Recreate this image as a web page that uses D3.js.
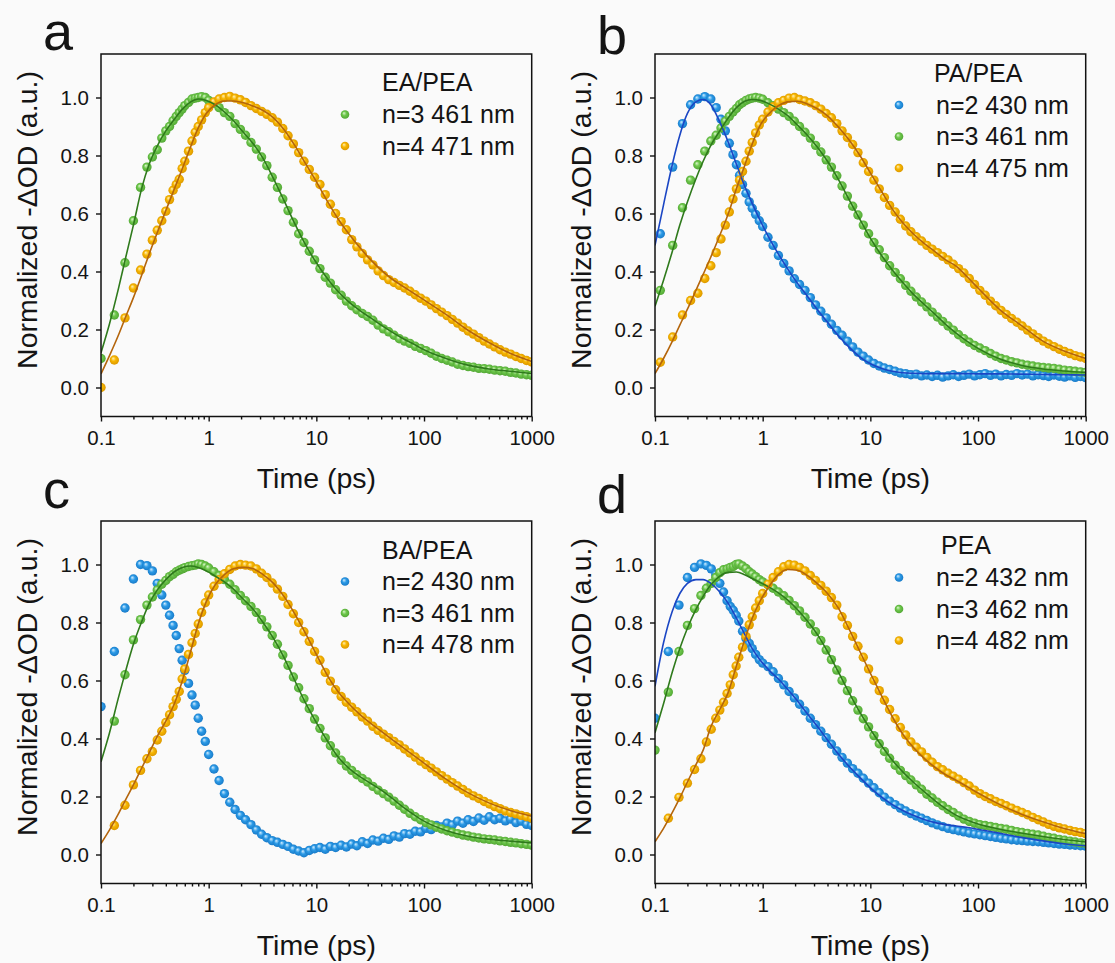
<!DOCTYPE html>
<meta charset="utf-8">
<style>
  body { margin: 0; background: #fafafa; }
  text { font-family: "Liberation Sans", Arial, sans-serif; fill: #141414; }
  .axis path { display: none; }
  .axis line { stroke: #111; stroke-width: 1.4px; }
  .axis text { font-size: 20.5px; }
</style>
<body>
<script src="https://d3js.org/d3.v7.min.js"></script>
<script>
// sampling times (ps)
var timesEarly  = [0.1, 0.133, 0.167, 0.2, 0.233, 0.267, 0.3, 0.333, 0.367, 0.4,
                   0.433, 0.467, 0.5, 0.533, 0.567, 0.6, 0.65, 0.7, 0.75, 0.8,
                   0.86, 0.93, 1.0];
var timesEarlyB = [0.112, 0.146, 0.18, 0.214, 0.25, 0.29, 0.33, 0.37, 0.41, 0.45,
                   0.49, 0.53, 0.57, 0.61, 0.65, 0.7, 0.75, 0.8, 0.86, 0.93,
                   1.0];
var timesLate = [1.12, 1.25, 1.4, 1.57, 1.76, 1.97, 2.2, 2.47, 2.77, 3.1,
                 3.47, 3.89, 4.35, 4.88, 5.46, 6.12, 6.85, 7.67, 8.6, 9.63,
                 10.8, 12.1, 13.5, 15.1, 17, 19, 21.3, 23.8, 26.7, 29.9,
                 33.5, 37.5, 42, 47, 52.7, 59, 66, 74, 82.9, 92.9,
                 104, 116.5, 130.5, 146, 163.6, 183, 205, 230, 257, 288,
                 323, 362, 405, 453, 508, 569, 637, 714, 799, 895,
                 1000];
var fitTimes = [0.1, 0.12, 0.145, 0.17, 0.2, 0.24, 0.28, 0.33, 0.4, 0.48,
                0.57, 0.68, 0.8, 0.95, 1.15, 1.4, 1.7, 2.1, 2.6, 3.2,
                4, 5, 6.3, 8, 10, 13, 16, 20, 25, 32,
                40, 50, 63, 80, 100, 160, 250, 400, 630, 1000];

var xTicks = [0.1, 1, 10, 100, 1000];
var yTicks = [0, 0.2, 0.4, 0.6, 0.8, 1.0];

// ---- panel a : EA/PEA ----
var aGreen = [0.10, 0.25, 0.43, 0.575, 0.69, 0.76, 0.795, 0.82, 0.86, 0.885,
  0.9, 0.92, 0.935, 0.948, 0.96, 0.972, 0.983, 0.995, 0.998, 1.0,
  1.003, 1.0, 0.99,
  0.98, 0.965, 0.948, 0.935, 0.91, 0.89, 0.87, 0.845, 0.822, 0.795,
  0.765, 0.725, 0.69, 0.65, 0.61, 0.57, 0.53, 0.5, 0.47, 0.44,
  0.41, 0.38, 0.36, 0.337, 0.318, 0.298, 0.282, 0.268, 0.255, 0.245,
  0.232, 0.215, 0.202, 0.192, 0.18, 0.168, 0.16, 0.152, 0.142, 0.135,
  0.127, 0.118, 0.108, 0.1, 0.094, 0.088, 0.08, 0.076, 0.072, 0.07,
  0.066, 0.065, 0.063, 0.06, 0.058, 0.056, 0.052, 0.05, 0.046, 0.044,
  0.042];
var aYellow = [0.0, 0.095, 0.24, 0.343, 0.405, 0.46, 0.508, 0.542, 0.575, 0.608,
  0.648, 0.68, 0.7, 0.718, 0.755, 0.78, 0.815, 0.85, 0.88, 0.9,
  0.923, 0.948, 0.965,
  0.985, 0.995, 1.0, 1.004, 0.998, 0.992, 0.983, 0.972, 0.962, 0.952,
  0.942, 0.93, 0.915, 0.893, 0.868, 0.84, 0.81, 0.78, 0.752, 0.725,
  0.7, 0.665, 0.632, 0.6, 0.572, 0.544, 0.51, 0.485, 0.462, 0.44,
  0.423, 0.402, 0.386, 0.372, 0.362, 0.352, 0.343, 0.332, 0.32, 0.308,
  0.298, 0.285, 0.272, 0.26, 0.248, 0.235, 0.222, 0.208, 0.195, 0.184,
  0.172, 0.16, 0.15, 0.14, 0.13, 0.122, 0.115, 0.107, 0.1, 0.093,
  0.088];
var aGreenFit = [0.12, 0.22, 0.34, 0.45, 0.56, 0.69, 0.77, 0.83, 0.885, 0.925,
  0.96, 0.985, 0.995, 0.99, 0.975, 0.95, 0.92, 0.88, 0.84, 0.79,
  0.72, 0.645, 0.565, 0.49, 0.43, 0.37, 0.33, 0.295, 0.267, 0.24,
  0.215, 0.192, 0.17, 0.15, 0.13, 0.1, 0.078, 0.064, 0.056, 0.048];
var aYellowFit = [0.047, 0.11, 0.18, 0.245, 0.31, 0.39, 0.46, 0.53, 0.61, 0.685,
  0.755, 0.83, 0.895, 0.945, 0.975, 0.988, 0.988, 0.982, 0.97, 0.955,
  0.93, 0.89, 0.835, 0.77, 0.71, 0.635, 0.58, 0.53, 0.485, 0.44,
  0.405, 0.375, 0.35, 0.325, 0.302, 0.252, 0.2, 0.155, 0.118, 0.09];

// ---- panel b : PA/PEA ----
var bBlue = [0.53, 0.76, 0.91, 0.975, 0.995, 1.003, 0.995, 0.965, 0.925, 0.885,
  0.842, 0.803, 0.768, 0.732, 0.7, 0.67, 0.64, 0.618, 0.597, 0.575,
  0.555,
  0.518, 0.49, 0.455, 0.428, 0.402, 0.375, 0.355, 0.335, 0.31, 0.285,
  0.263, 0.24, 0.218, 0.197, 0.18, 0.16, 0.14, 0.122, 0.108, 0.095,
  0.083, 0.074, 0.067, 0.062, 0.056, 0.05, 0.048, 0.044, 0.046, 0.04,
  0.043, 0.038, 0.042, 0.036, 0.04, 0.044, 0.038, 0.042, 0.046, 0.04,
  0.044, 0.048, 0.042, 0.046, 0.04, 0.045, 0.042, 0.048, 0.043, 0.046,
  0.04, 0.044, 0.041, 0.038, 0.043, 0.039, 0.036, 0.04, 0.035, 0.038,
  0.034];
var bGreen = [0.335, 0.49, 0.62, 0.715, 0.768, 0.815, 0.85, 0.87, 0.895, 0.918,
  0.935, 0.95, 0.962, 0.975, 0.982, 0.99, 0.995, 0.998, 1.0, 0.998,
  0.994,
  0.982, 0.972, 0.96, 0.948, 0.935, 0.918, 0.9, 0.88, 0.86, 0.835,
  0.812, 0.785, 0.76, 0.73, 0.695, 0.66, 0.625, 0.595, 0.56, 0.53,
  0.5, 0.475, 0.448, 0.42, 0.397, 0.375, 0.352, 0.332, 0.312, 0.295,
  0.278, 0.26, 0.243, 0.228, 0.212, 0.198, 0.182, 0.168, 0.156, 0.145,
  0.136, 0.127, 0.117, 0.108, 0.1, 0.095, 0.089, 0.085, 0.08, 0.077,
  0.074, 0.071, 0.069, 0.067, 0.066, 0.063, 0.06, 0.058, 0.056, 0.054,
  0.052];
var bYellow = [0.087, 0.174, 0.25, 0.3, 0.325, 0.376, 0.42, 0.465, 0.512, 0.56,
  0.605, 0.65, 0.685, 0.715, 0.745, 0.78, 0.815, 0.845, 0.878, 0.905,
  0.925,
  0.95, 0.968, 0.982, 0.99, 0.998, 1.0, 0.993, 0.988, 0.982, 0.972,
  0.96, 0.945, 0.93, 0.91, 0.885, 0.862, 0.838, 0.81, 0.775, 0.745,
  0.715, 0.685, 0.655, 0.628, 0.605, 0.58, 0.557, 0.537, 0.52, 0.505,
  0.49, 0.477, 0.465, 0.452, 0.44, 0.425, 0.41, 0.395, 0.376, 0.355,
  0.335, 0.318, 0.298, 0.282, 0.266, 0.252, 0.238, 0.225, 0.212, 0.198,
  0.185, 0.172, 0.16, 0.15, 0.141, 0.132, 0.124, 0.117, 0.11, 0.105,
  0.1];
var bBlueFit = [0.49, 0.63, 0.77, 0.87, 0.945, 0.985, 0.993, 0.975, 0.915, 0.845,
  0.77, 0.695, 0.635, 0.575, 0.515, 0.46, 0.41, 0.36, 0.315, 0.27,
  0.225, 0.18, 0.14, 0.105, 0.082, 0.065, 0.056, 0.051, 0.049, 0.048,
  0.048, 0.048, 0.048, 0.048, 0.047, 0.047, 0.046, 0.045, 0.044, 0.043];
var bGreenFit = [0.28, 0.37, 0.47, 0.56, 0.64, 0.72, 0.78, 0.835, 0.885, 0.93,
  0.965, 0.987, 0.993, 0.99, 0.978, 0.96, 0.938, 0.905, 0.87, 0.83,
  0.78, 0.72, 0.65, 0.58, 0.515, 0.45, 0.405, 0.362, 0.322, 0.285,
  0.252, 0.218, 0.187, 0.158, 0.135, 0.098, 0.077, 0.064, 0.057, 0.052];
var bYellowFit = [0.048, 0.1, 0.16, 0.215, 0.27, 0.335, 0.39, 0.45, 0.525, 0.6,
  0.685, 0.765, 0.84, 0.905, 0.945, 0.972, 0.985, 0.987, 0.978, 0.962,
  0.937, 0.9, 0.855, 0.8, 0.74, 0.67, 0.615, 0.568, 0.53, 0.495,
  0.468, 0.44, 0.418, 0.38, 0.343, 0.268, 0.215, 0.16, 0.126, 0.1];

// ---- panel c : BA/PEA ----
var cBlue = [0.51, 0.7, 0.85, 0.95, 1.0, 0.996, 0.978, 0.935, 0.895, 0.86,
  0.825, 0.79, 0.755, 0.71, 0.67, 0.635, 0.59, 0.55, 0.515, 0.47,
  0.425, 0.39, 0.345,
  0.295, 0.255, 0.21, 0.18, 0.155, 0.135, 0.12, 0.103, 0.085, 0.07,
  0.058, 0.048, 0.042, 0.035, 0.028, 0.018, 0.012, 0.006, 0.014, 0.02,
  0.024, 0.018, 0.028, 0.024, 0.032, 0.026, 0.036, 0.03, 0.044, 0.038,
  0.05, 0.046, 0.056, 0.052, 0.064, 0.06, 0.072, 0.07, 0.08, 0.078,
  0.09, 0.086, 0.1, 0.095, 0.108, 0.102, 0.115, 0.108, 0.12, 0.114,
  0.126, 0.118, 0.13, 0.12, 0.125, 0.116, 0.122, 0.11, 0.115, 0.104,
  0.1];
var cGreen = [null, 0.46, 0.62, 0.74, 0.81, 0.86, 0.888, 0.912, 0.932, 0.945,
  0.958, 0.966, 0.975, 0.98, 0.985, 0.989, 0.993, 0.996, 0.998, 1.002,
  1.0, 0.995, 0.988,
  0.975, 0.962, 0.948, 0.932, 0.913, 0.893, 0.875, 0.855, 0.835, 0.81,
  0.785, 0.755, 0.725, 0.688, 0.652, 0.612, 0.575, 0.537, 0.503, 0.467,
  0.435, 0.402, 0.375, 0.35, 0.325, 0.305, 0.29, 0.275, 0.262, 0.25,
  0.235, 0.222, 0.21, 0.198, 0.184, 0.17, 0.156, 0.142, 0.13, 0.12,
  0.11, 0.102, 0.094, 0.088, 0.082, 0.077, 0.072, 0.067, 0.064, 0.06,
  0.057, 0.054, 0.052, 0.05, 0.047, 0.045, 0.042, 0.04, 0.037, 0.035,
  0.032];
var cYellow = [null, 0.1, 0.17, 0.24, 0.29, 0.33, 0.355, 0.395, 0.425, 0.455,
  0.482, 0.51, 0.535, 0.562, 0.605, 0.64, 0.69, 0.73, 0.762, 0.795,
  0.835, 0.868, 0.895,
  0.925, 0.948, 0.968, 0.983, 0.995, 1.0, 0.998, 0.995, 0.985, 0.97,
  0.955, 0.936, 0.915, 0.89, 0.862, 0.83, 0.8, 0.768, 0.735, 0.7,
  0.67, 0.628, 0.598, 0.568, 0.545, 0.525, 0.508, 0.492, 0.474, 0.46,
  0.442, 0.428, 0.415, 0.403, 0.39, 0.378, 0.364, 0.35, 0.336, 0.322,
  0.31, 0.298, 0.285, 0.272, 0.26, 0.248, 0.236, 0.224, 0.212, 0.202,
  0.193, 0.183, 0.174, 0.165, 0.158, 0.15, 0.145, 0.14, 0.135, 0.13,
  0.125];
var cGreenFit = [0.32, 0.42, 0.54, 0.635, 0.725, 0.805, 0.865, 0.91, 0.948, 0.975,
  0.99, 0.995, 0.99, 0.978, 0.96, 0.94, 0.915, 0.88, 0.845, 0.8,
  0.745, 0.68, 0.6, 0.52, 0.455, 0.385, 0.335, 0.298, 0.27, 0.245,
  0.222, 0.195, 0.165, 0.138, 0.115, 0.083, 0.064, 0.053, 0.046, 0.04];
var cYellowFit = [0.038, 0.085, 0.14, 0.19, 0.24, 0.3, 0.35, 0.405, 0.46, 0.52,
  0.6, 0.7, 0.795, 0.872, 0.93, 0.965, 0.985, 0.99, 0.985, 0.965,
  0.935, 0.89, 0.83, 0.76, 0.69, 0.61, 0.56, 0.52, 0.485, 0.452,
  0.425, 0.398, 0.37, 0.342, 0.315, 0.26, 0.215, 0.178, 0.152, 0.132];

// ---- panel d : PEA ----
var dBlue = [0.47, 0.7, 0.86, 0.955, 0.99, 1.002, 0.997, 0.985, 0.965, 0.935,
  0.905, 0.875, 0.855, 0.842, 0.825, 0.805, 0.77, 0.745, 0.728, 0.71,
  0.69, 0.672, 0.66,
  0.648, 0.63, 0.607, 0.585, 0.562, 0.54, 0.518, 0.495, 0.47, 0.448,
  0.425, 0.403, 0.38, 0.357, 0.335, 0.315, 0.296, 0.28, 0.263, 0.246,
  0.23, 0.213, 0.198, 0.184, 0.172, 0.16, 0.15, 0.141, 0.133, 0.125,
  0.117, 0.109, 0.102, 0.096, 0.09, 0.086, 0.082, 0.078, 0.074, 0.071,
  0.068, 0.065, 0.062, 0.059, 0.056, 0.054, 0.051, 0.049, 0.048, 0.046,
  0.045, 0.044, 0.042, 0.04, 0.038, 0.036, 0.035, 0.033, 0.032, 0.03,
  0.029];
var dGreen = [0.36, 0.56, 0.7, 0.79, 0.848, 0.893, 0.918, 0.935, 0.955, 0.972,
  0.982, 0.985, 0.99, 0.993, 1.0, 1.002, 0.995, 0.986, 0.975, 0.967,
  0.958, 0.948, 0.94,
  0.93, 0.918, 0.905, 0.892, 0.876, 0.858, 0.84, 0.818, 0.795, 0.768,
  0.738, 0.705, 0.672, 0.636, 0.6, 0.565, 0.53, 0.498, 0.468, 0.44,
  0.41, 0.382, 0.355, 0.332, 0.308, 0.29, 0.272, 0.257, 0.24, 0.225,
  0.208, 0.195, 0.18, 0.168, 0.155, 0.145, 0.133, 0.122, 0.114, 0.108,
  0.103, 0.1, 0.097, 0.093, 0.09, 0.087, 0.083, 0.079, 0.076, 0.073,
  0.07, 0.067, 0.063, 0.059, 0.056, 0.052, 0.049, 0.046, 0.043, 0.04,
  0.038];
var dYellow = [null, 0.125, 0.197, 0.246, 0.293, 0.33, 0.388, 0.432, 0.47, 0.498,
  0.525, 0.555, 0.585, 0.62, 0.65, 0.68, 0.715, 0.752, 0.792, 0.82,
  0.85, 0.875, 0.9,
  0.932, 0.955, 0.975, 0.992, 1.0, 0.998, 0.99, 0.978, 0.962, 0.945,
  0.928, 0.908, 0.886, 0.86, 0.82, 0.79, 0.752, 0.718, 0.68, 0.64,
  0.6, 0.565, 0.532, 0.5, 0.468, 0.438, 0.412, 0.388, 0.37, 0.354,
  0.335, 0.318, 0.303, 0.292, 0.28, 0.27, 0.26, 0.248, 0.236, 0.222,
  0.21, 0.2, 0.192, 0.183, 0.176, 0.168, 0.16, 0.152, 0.145, 0.137,
  0.128, 0.12, 0.112, 0.104, 0.097, 0.092, 0.088, 0.083, 0.079, 0.076,
  0.072];
var dBlueFit = [0.58, 0.73, 0.84, 0.9, 0.935, 0.948, 0.948, 0.935, 0.905, 0.865,
  0.815, 0.76, 0.71, 0.67, 0.635, 0.605, 0.57, 0.53, 0.485, 0.443,
  0.395, 0.348, 0.305, 0.265, 0.23, 0.195, 0.172, 0.152, 0.135, 0.12,
  0.11, 0.103, 0.098, 0.093, 0.087, 0.073, 0.059, 0.047, 0.037, 0.03];
var dGreenFit = [0.42, 0.52, 0.63, 0.71, 0.78, 0.845, 0.89, 0.93, 0.96, 0.973,
  0.974, 0.965, 0.952, 0.938, 0.922, 0.902, 0.878, 0.845, 0.805, 0.76,
  0.7, 0.632, 0.56, 0.49, 0.432, 0.37, 0.325, 0.285, 0.25, 0.215,
  0.185, 0.158, 0.135, 0.118, 0.105, 0.087, 0.074, 0.062, 0.052, 0.043];
var dYellowFit = [0.044, 0.09, 0.145, 0.195, 0.25, 0.31, 0.36, 0.44, 0.5, 0.56,
  0.65, 0.74, 0.815, 0.875, 0.925, 0.965, 0.983, 0.98, 0.962, 0.935,
  0.9, 0.852, 0.78, 0.7, 0.625, 0.54, 0.475, 0.415, 0.37, 0.33,
  0.3, 0.275, 0.255, 0.233, 0.212, 0.172, 0.14, 0.113, 0.09, 0.072];

var palette = {
  blue:   {base: "#2b9ae6", light: "#d4edff", dark: "#1676c4", fit: "#1b46c4"},
  green:  {base: "#6dc74b", light: "#dcf6cd", dark: "#4fa332", fit: "#2f7a1c"},
  yellow: {base: "#f7b600", light: "#fff0b8", dark: "#d89400", fit: "#b4650c"}
};

var W = 430.7, H = 362.5;
var panels = [
  {letter: "a", left: 101, top: 54, letterY: 50, times: timesEarly.concat(timesLate),
   title: "EA/PEA", titleX: 281, titleY: 37, rowY: 69,
   series: [
     {key: "green",  label: "n=3 461 nm", values: aGreen,  fit: aGreenFit},
     {key: "yellow", label: "n=4 471 nm", values: aYellow, fit: aYellowFit}]},
  {letter: "b", left: 655, top: 54, letterY: 54, times: timesEarlyB.concat(timesLate),
   title: "PA/PEA", titleX: 279, titleY: 28, rowY: 59.5,
   series: [
     {key: "blue",   label: "n=2 430 nm", values: bBlue,   fit: bBlueFit},
     {key: "green",  label: "n=3 461 nm", values: bGreen,  fit: bGreenFit},
     {key: "yellow", label: "n=4 475 nm", values: bYellow, fit: bYellowFit}]},
  {letter: "c", left: 101, top: 521, letterY: 508, times: timesEarly.concat(timesLate),
   title: "BA/PEA", titleX: 281, titleY: 37.5, rowY: 69,
   series: [
     {key: "blue",   label: "n=2 430 nm", values: cBlue,   fit: null},
     {key: "green",  label: "n=3 461 nm", values: cGreen,  fit: cGreenFit},
     {key: "yellow", label: "n=4 478 nm", values: cYellow, fit: cYellowFit}]},
  {letter: "d", left: 655, top: 521, letterY: 513, times: timesEarly.concat(timesLate),
   title: "PEA", titleX: 286, titleY: 33, rowY: 65,
   series: [
     {key: "blue",   label: "n=2 432 nm", values: dBlue,   fit: dBlueFit},
     {key: "green",  label: "n=3 462 nm", values: dGreen,  fit: dGreenFit},
     {key: "yellow", label: "n=4 482 nm", values: dYellow, fit: dYellowFit}]}
];

var svg = d3.select("body").append("svg")
    .attr("width", 1115)
    .attr("height", 963);

var defs = svg.append("defs");
Object.keys(palette).forEach(function(k) {
  var g = defs.append("radialGradient").attr("id", "ball-" + k)
      .attr("cx", "50%").attr("cy", "50%").attr("r", "55%")
      .attr("fx", "36%").attr("fy", "32%");
  g.append("stop").attr("offset", "0%").attr("stop-color", palette[k].light);
  g.append("stop").attr("offset", "45%").attr("stop-color", palette[k].base);
  g.append("stop").attr("offset", "100%").attr("stop-color", palette[k].dark);
});

var x = d3.scaleLog().domain([0.1, 1000]).range([0, W]);
var y = d3.scaleLinear().domain([-0.1, 1.15]).range([H, 0]);

var minorTicks = [];
[0.1, 1, 10, 100].forEach(function(d) {
  for (var k = 2; k <= 9; k++) minorTicks.push(d * k);
});

var line = d3.line()
    .x(function(d) { return x(d[0]); })
    .y(function(d) { return y(d[1]); })
    .curve(d3.curveMonotoneX);

panels.forEach(function(p, i) {
  var g = svg.append("g").attr("transform", "translate(" + p.left + "," + p.top + ")");

  defs.append("clipPath").attr("id", "clip" + i)
    .append("rect").attr("width", W).attr("height", H);

  // axes
  g.append("g").attr("class", "axis")
    .attr("transform", "translate(0," + H + ")")
    .call(d3.axisBottom(x).tickValues(minorTicks).tickSize(3).tickFormat(""));
  g.append("g").attr("class", "axis")
    .attr("transform", "translate(0," + H + ")")
    .call(d3.axisBottom(x).tickValues(xTicks).tickSize(5).tickPadding(9)
      .tickFormat(function(d) { return String(d); }));
  g.append("g").attr("class", "axis")
    .call(d3.axisLeft(y).tickValues(yTicks).tickSize(5).tickPadding(7)
      .tickFormat(d3.format(".1f")));

  // data points then fits
  var plot = g.append("g").attr("clip-path", "url(#clip" + i + ")");
  p.series.forEach(function(s) {
    var pts = p.times.map(function(t, j) { return [t, s.values[j]]; })
        .filter(function(d) { return d[1] != null; });
    plot.append("g").selectAll("circle")
      .data(pts)
      .enter().append("circle")
      .attr("cx", function(d) { return x(d[0]); })
      .attr("cy", function(d) { return y(d[1]); })
      .attr("r", 4.7)
      .attr("fill", "url(#ball-" + s.key + ")");
  });
  p.series.forEach(function(s) {
    if (!s.fit) return;
    plot.append("path")
      .datum(fitTimes.map(function(t, j) { return [t, s.fit[j]]; }))
      .attr("d", line)
      .attr("fill", "none")
      .attr("stroke", palette[s.key].fit)
      .attr("stroke-width", 1.6);
  });

  // frame
  g.append("rect").attr("width", W).attr("height", H)
    .attr("fill", "none").attr("stroke", "#111").attr("stroke-width", 1.5);

  // legend
  g.append("text").attr("x", p.titleX).attr("y", p.titleY)
    .style("font-size", "25px").text(p.title);
  p.series.forEach(function(s, j) {
    var yy = p.rowY + j * 31.5;
    g.append("circle").attr("cx", 244).attr("cy", yy - 8.5).attr("r", 4.3)
      .attr("fill", "url(#ball-" + s.key + ")");
    g.append("text").attr("x", 281).attr("y", yy)
      .style("font-size", "25px").text(s.label);
  });

  // axis titles
  g.append("text")
    .attr("x", W / 2).attr("y", H + 71)
    .attr("text-anchor", "middle")
    .style("font-size", "28.5px")
    .text("Time (ps)");
  g.append("text")
    .attr("transform", "translate(-64," + 166 + ") rotate(-90)")
    .attr("text-anchor", "middle")
    .style("font-size", "28.5px")
    .text("Normalized -\u0394OD (a.u.)");

  // panel letter
  svg.append("text")
    .attr("x", p.left - 58).attr("y", p.letterY)
    .style("font-size", "54px")
    .text(p.letter);
});
</script>
</body>
